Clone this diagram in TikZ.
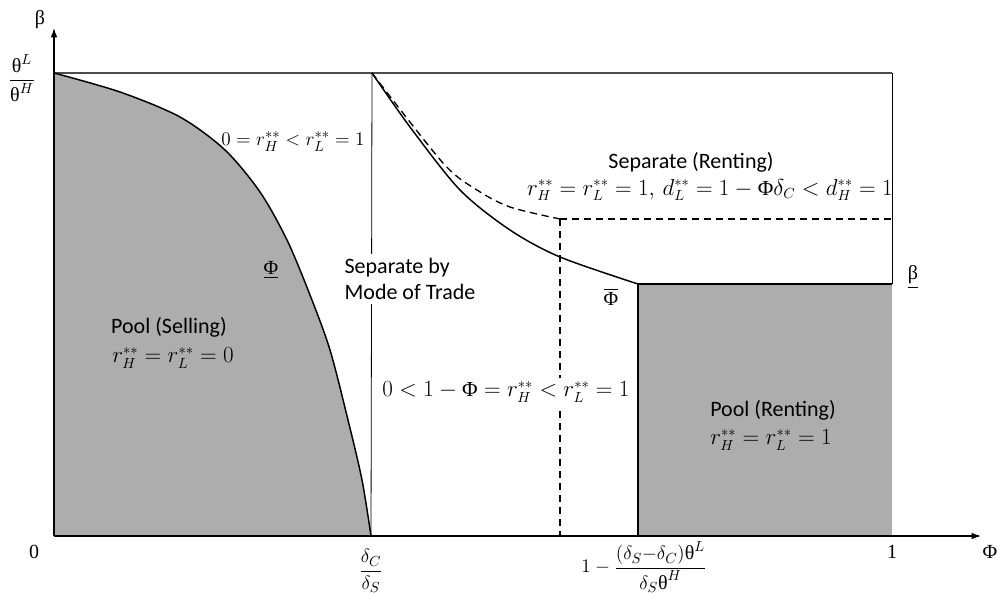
\documentclass[tikz,border=0pt]{standalone}
\usepackage{amsmath}
\usepackage{fontspec}
\setmainfont{Liberation Serif}
\newfontfamily\calib{Carlito}
\usetikzlibrary{arrows.meta}
\definecolor{regiongray}{RGB}{173,173,173}
\begin{document}
\begin{tikzpicture}[x=0.75pt,y=-0.75pt,
  lbl/.style={font=\calib\fontsize{16.5}{20}\selectfont, inner sep=1pt},
  mth/.style={font=\fontsize{16}{19}\selectfont, inner sep=1pt},
  axlbl/.style={font=\fontsize{15}{18}\selectfont, inner sep=0pt},
  curve/.style={line width=1.1pt},
  dsh/.style={line width=1pt, dash pattern=on 5.5pt off 3.5pt},
  axis/.style={line width=0.9pt, -{Latex[length=7pt,width=5pt]}},
  thick edge/.style={line width=1.6pt},
]
\useasboundingbox (0,0) rectangle (998,595);
% coordinates
\coordinate (O) at (54,536);
\coordinate (TL) at (54,73);
\coordinate (TR) at (892,73);
\coordinate (BR) at (892,536);
\coordinate (DC) at (371,536);
\coordinate (S) at (372,73);
\coordinate (K) at (638,284);
\coordinate (KB) at (638,536);
\coordinate (KR) at (892,284);
\coordinate (D) at (560,219);
\coordinate (DR) at (892,219);
\coordinate (DB) at (560,536);
\coordinate (Ytip) at (54,28);
\coordinate (Xtip) at (981,536);

\def\leftcurve{(54,73) (120,92) (180,117) (225,150) (260,192) (287,240) (310,295) (330,350) (348,420) (362,480) (371,536)}

% shaded regions
\fill[regiongray] (O) -- plot[smooth] coordinates {\leftcurve} -- cycle;
\fill[regiongray] (K) rectangle (BR);

% frame
\draw[gray!60!black, line width=0.8pt] (TL) -- (TR);
\draw[line width=0.6pt] (TR) -- (KR);
\draw[line width=0.6pt] (S) -- (DC);

% curves
\draw[curve] plot[smooth] coordinates {\leftcurve};
\draw[curve] plot[smooth] coordinates {(372,73) (410,127) (460,190) (510,230) (560,257) (638,284)};
\draw[dsh] plot[smooth] coordinates {(372,73) (443,163) (477,190) (510,207) (560,219)};
\draw[dsh] (D) -- (DR);
\draw[dsh] (D) -- (DB);
\draw[thick edge] (KB) -- (K) -- (KR);

% axes
\draw[axis] (O) -- (Ytip);
\draw[axis] (O) -- (Xtip);

% region labels
\node[lbl, fill=white, align=left, inner sep=3pt] (sepmode) at (410,279) {Separate by\\Mode of Trade};
\node[inner sep=1pt, font=\fontsize{15.5}{18}\selectfont] (lowtop) at (293,142) {$0 = r_H^{**} < r_L^{**} = 1$};
\node[lbl] (poolsell) at (169,327) {Pool (Selling)};
\node[mth] (poolsellr) at (173,358) {$r_H^{**} = r_L^{**} = 0$};
\node[lbl] (seprent) at (691,162) {Separate (Renting)};
\node[mth] (seprentr) at (710,190) {$r_H^{**} = r_L^{**} = 1,\, d_L^{**} = 1 - \text{Φ}\delta_C < d_H^{**} = 1$};
\node[mth, fill=white, inner sep=3pt] (midr) at (506,392) {$0 < 1 - \text{Φ} = r_H^{**} < r_L^{**} = 1$};
\node[lbl] (poolrent) at (773,410) {Pool (Renting)};
\node[mth] (poolrentr) at (771,440) {$r_H^{**} = r_L^{**} = 1$};
\node[axlbl] (phiunder) at (271,270) {\underline{Φ}};
\node[axlbl] (phiover) at (611,297) {$\overline{\text{Φ}}$};
\node[axlbl] (betaunder) at (913,277) {\underline{β}};

% axis labels
\node[axlbl] (betalbl) at (40,20) {β};
\node[axlbl] (thetafrac) at (22,78) {$\dfrac{\text{θ}^{L}}{\text{θ}^{H}}$};
\node[axlbl] (zero) at (34,552) {0};
\node[axlbl] (one) at (892,552) {1};
\node[axlbl] (philbl) at (990,552) {Φ};
\node[axlbl] (dcds) at (371,571) {$\dfrac{\delta_C}{\delta_S}$};
\node[axlbl] (thresh) at (644,567) {$1-\dfrac{(\delta_S{-}\delta_C)\text{θ}^L}{\delta_S\text{θ}^H}$};
\end{tikzpicture}
\end{document}
